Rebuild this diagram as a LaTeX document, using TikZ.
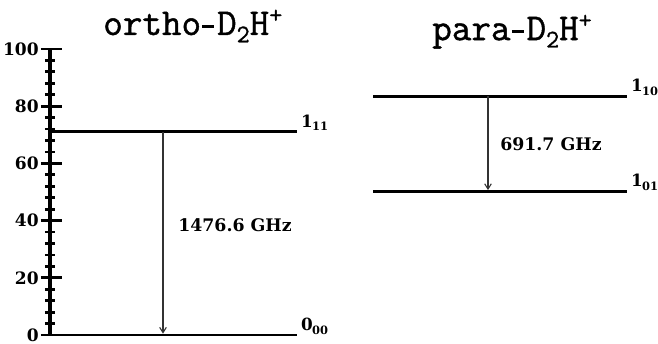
\documentclass[tikz,border=0pt]{standalone}
\usepackage{fontspec}
\setmainfont{DejaVu Serif}
\newfontfamily\titlefont[FakeBold=1.2]{Latin Modern Mono}
\usetikzlibrary{arrows.meta, calc}
\newcommand\lsub[1]{\kern-.5pt\raisebox{-2.8pt}{\fontsize{8.6}{9}\selectfont#1}}
\newcommand\tminus{\kern1pt\rule[5.6pt]{9pt}{1.7pt}\kern2pt}
\newcommand\tsub[1]{\raisebox{-5.5pt}{\fontsize{19}{19}\selectfont#1}}
\newcommand\tsup[1]{\raisebox{9pt}{\fontsize{19}{19}\selectfont#1}}
\tikzset{
  axline/.style={line width=2.3pt},
  axtick/.style={line width=2.1pt},
  lvline/.style={line width=2.2pt},
  trans/.style={-{Straight Barb[length=4pt,width=5pt]}, line width=.8pt, color=black!80, shorten >=1pt},
  ticklbl/.style={font=\fontsize{12.8}{14}\selectfont\bfseries, anchor=east, inner sep=0pt},
  lvl/.style={font=\fontsize{12.6}{14}\selectfont\bfseries, anchor=base west, inner sep=0pt, xshift=2pt, yshift=3.5pt},
  freq/.style={font=\fontsize{13}{15}\selectfont\bfseries, anchor=west, inner sep=0pt},
  title/.style={font=\fontsize{28.5}{30}\selectfont\titlefont, anchor=base west, inner sep=0pt},
}
\begin{document}
\begin{tikzpicture}[x=0.75pt,y=2.145pt]
\useasboundingbox (-50,-3.147) rectangle (608,117.13);
% energy axis
\coordinate (ax0) at (0,0);
\coordinate (ax1) at (0,100);
\draw[axline] (ax0) -- (ax1);
\foreach \v in {0,4,...,100} \draw[axtick] (-5,\v) -- (5,\v);
\foreach \v in {0,20,...,100} {
  \draw[axtick] (-9,\v) -- (12,\v);
  \node[ticklbl] (t\v) at (-11,\v) {\v};
}
% ortho
\node[title] (tortho) at (53,104.9) {ortho\tminus D\tsub{2}H\tsup{+}};
\coordinate (o00a) at (0,0);  \coordinate (o00b) at (247,0);
\coordinate (o11a) at (0,71); \coordinate (o11b) at (247,71);
\draw[lvline] (o00a) -- (o00b) node[lvl] (l00) {0\lsub{00}};
\draw[lvline] (o11a) -- (o11b) node[lvl] (l11) {1\lsub{11}};
\coordinate (oarr) at (113,0);
\draw[trans] (oarr |- o11a) -- (oarr);
\node[freq] (fortho) at (128,38.5) {1476.6 GHz};
% para
\node[title] (tpara) at (382,103.1) {para\tminus D\tsub{2}H\tsup{+}};
\coordinate (p01a) at (323,50.2); \coordinate (p01b) at (577,50.2);
\coordinate (p10a) at (323,83.4); \coordinate (p10b) at (577,83.4);
\draw[lvline] (p01a) -- (p01b) node[lvl] (l01) {1\lsub{01}};
\draw[lvline] (p10a) -- (p10b) node[lvl] (l10) {1\lsub{10}};
\coordinate (parr) at (438,0);
\draw[trans] (parr |- p10a) -- (parr |- p01a);
\node[freq] (fpara) at (450,66.6) {691.7 GHz};
\end{tikzpicture}
\end{document}
